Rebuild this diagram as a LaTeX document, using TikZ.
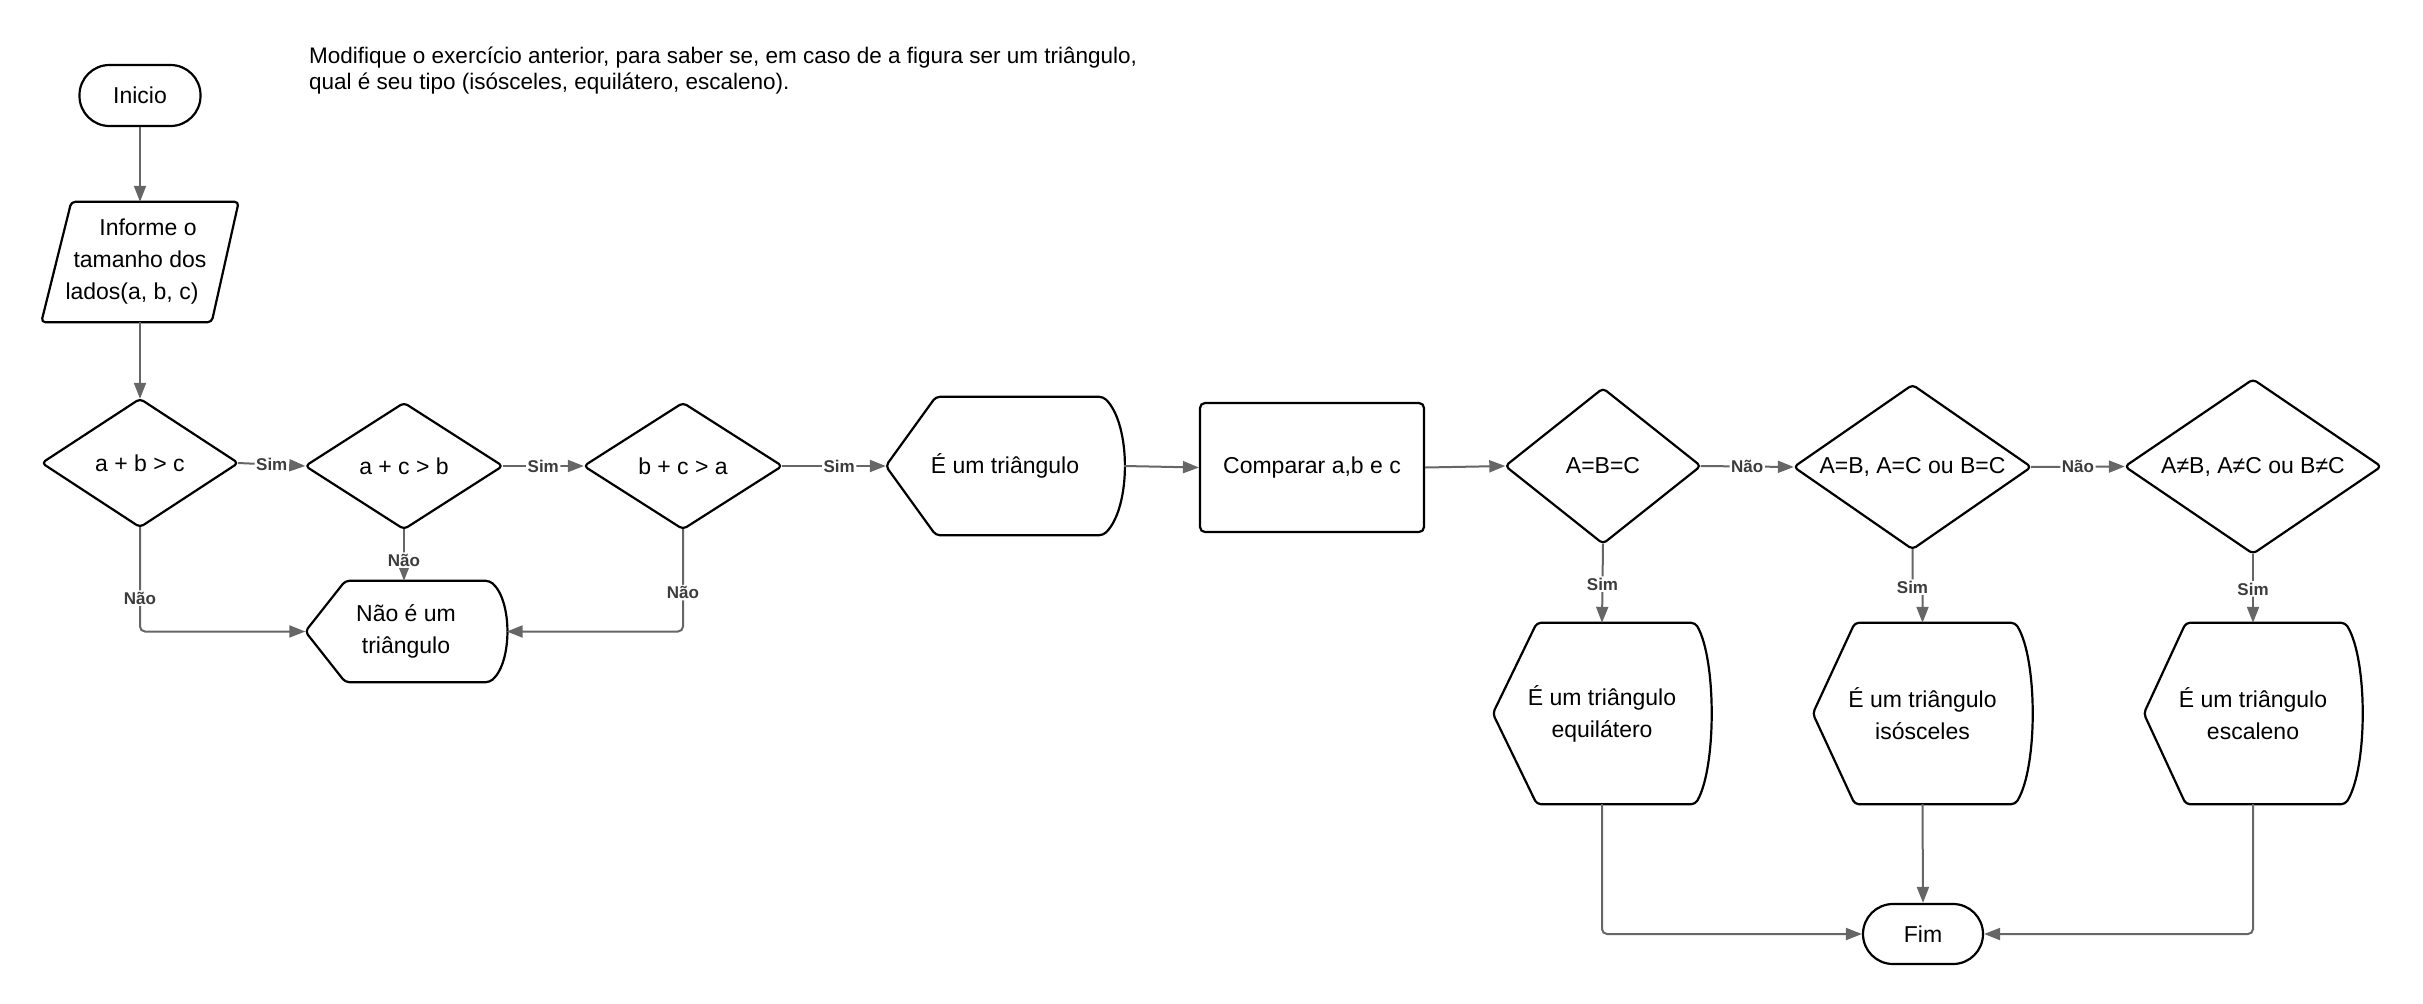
\documentclass[tikz,border=0pt]{standalone}
\usepackage{fontspec}
\setmainfont{Liberation Sans}
\usetikzlibrary{arrows.meta,calc}
\definecolor{conncol}{HTML}{666666}
\definecolor{lblcol}{HTML}{3C3C3C}
\begin{document}
\begin{tikzpicture}[x=1pt,y=-1pt,
  base/.style={font=\fontsize{23}{32}\selectfont, align=center, inner sep=0pt, text=black},
  outline/.style={draw=black, line width=2.2pt, rounded corners=4pt, line join=round},
  term/.style={base, draw=black, line width=2.2pt, rounded corners=30pt},
  conn/.style={draw=conncol, line width=2pt, rounded corners=5pt, -{Triangle[length=16pt,width=12pt]}},
  lab/.style={font=\fontsize{17}{17}\selectfont\bfseries, text=lblcol, fill=white, inner sep=1.5pt}]
\useasboundingbox (0,0) rectangle (2423,1004);

% description
\node[anchor=north west, align=left, inner sep=0pt, font=\fontsize{22.5}{25.5}\selectfont] (desc) at (309,47)
  {Modifique o exercício anterior, para saber se, em caso de a figura ser um triângulo,\\qual é seu tipo (isósceles, equilátero, escaleno).};

% nodes
\node[term, minimum width=121pt, minimum height=61pt] (ini) at (140,95.5) {Inicio};
\node[base, minimum width=197pt, minimum height=120pt] (inp) at (140,262)
  {\hspace*{16pt}Informe o\\tamanho dos\\lados(a, b, c)\hspace*{16pt}};

\node[base, minimum width=196pt, minimum height=128pt] (d1) at (140,463) {a + b > c};
\node[base, minimum width=197pt, minimum height=126pt] (d2) at (404,466) {a + c > b};
\node[base, minimum width=198pt, minimum height=126pt] (d3) at (683,466) {b + c > a};
\node[base, minimum width=201pt, minimum height=101pt] (nao) at (406,631.5) {Não é um\\triângulo};
\node[base, minimum width=238pt, minimum height=138pt] (tri) at (1005,466) {É um triângulo};
\node[base, draw=black, line width=2.2pt, rounded corners=5pt, minimum width=224pt, minimum height=129pt] (cmp) at (1312,467.5) {Comparar a,b e c};
\node[base, minimum width=195pt, minimum height=155pt] (dA) at (1603,466) {A=B=C};
\node[base, minimum width=237pt, minimum height=164pt] (dB) at (1912.5,467) {A=B, A=C ou B=C};
\node[base, minimum width=256pt, minimum height=174pt] (dC) at (2253,466.5) {A≠B, A≠C ou B≠C};
\node[base, minimum width=218pt, minimum height=181pt] (equi) at (1602,713.5) {É um triângulo\\equilátero};
\node[base, minimum width=219pt, minimum height=181pt] (isos) at (1922.5,713.5) {É um triângulo\\isósceles};
\node[base, minimum width=218pt, minimum height=181pt] (esca) at (2253,713.5) {É um triângulo\\escaleno};
\node[term, minimum width=120pt, minimum height=60pt] (fim) at (1923,934) {Fim};

% outlines
\draw[outline] ($(inp.north west)+(30,0)$) -- (inp.north east) -- ($(inp.south east)+(-27,0)$) -- (inp.south west) -- cycle;
\foreach \n in {d1,d2,d3,dA,dB,dC}
  \draw[outline] (\n.north) -- (\n.east) -- (\n.south) -- (\n.west) -- cycle;
\foreach \n/\s/\b/\h in {tri/50/21/138, nao/40/17/101, equi/44/16/181, isos/42/17/181, esca/42/17/181}
  \draw[outline] ($(\n.north west)+(\s,0)$) -- (\n.west) -- ($(\n.south west)+(\s,0)$)
    -- ($(\n.south east)+(-\b,0)$)
    .. controls ($(\n.south east)+(\b*0.333,-0.2*\h)$) and ($(\n.north east)+(\b*0.333,0.2*\h)$)
    .. ($(\n.north east)+(-\b,0)$) -- cycle;

% connectors
\draw[conn] (ini.south) -- (inp.north);
\draw[conn] (inp.south) -- (d1.north);
\draw[conn] (d1.east) -- node[lab]{Sim} (d2.west);
\draw[conn] (d2.east) -- node[lab]{Sim} (d3.west);
\draw[conn] (d3.east) -- node[lab,pos=0.55]{Sim} (tri.west);
\draw[conn] (d1.south) |- node[lab,pos=0.34]{Não} (nao.west);
\draw[conn] (d2.south) -- node[lab,pos=0.6]{Não} (d2.south |- nao.north);
\draw[conn] (d3.south) |- node[lab,pos=0.31]{Não} (nao.east);
\draw[conn] (tri.east) -- (cmp.west);
\draw[conn] (cmp.east) -- (dA.west);
\draw[conn] (dA.east) -- node[lab]{Não} (dB.west);
\draw[conn] (dB.east) -- node[lab]{Não} (dC.west);
\draw[conn] (dA.south) -- node[lab,pos=0.51]{Sim} (equi.north);
\draw[conn] (dB.south) -- ++(0,38) node[lab]{Sim} -| (isos.north);
\draw[conn] (dC.south) -- node[lab,pos=0.51]{Sim} (esca.north);
\draw[conn] (equi.south) |- (fim.west);
\draw[conn] (isos.south) -- (fim.north);
\draw[conn] (esca.south) |- (fim.east);
\end{tikzpicture}
\end{document}
